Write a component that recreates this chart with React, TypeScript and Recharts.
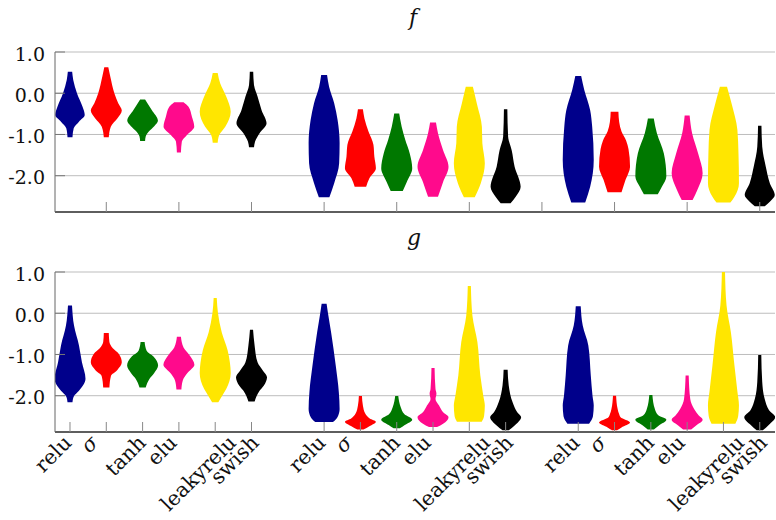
import React from 'react';
import { ComposedChart, Area, XAxis, YAxis, CartesianGrid } from 'recharts';

// ---- data ----
const CATEGORIES = ['relu', 'σ', 'tanh', 'elu', 'leakyrelu', 'swish'];
const COLORS = ['#00008b', '#ff0000', '#007800', '#ff0a8c', '#ffe600', '#000000'];
const GROUP_STARTS = [0, 7, 14];
const Y_TICKS = [-2, -1, 0, 1];
const TOP_X_TICKS = [1, 3, 5, 7, 9, 11, 13, 15, 17, 19];
const BOTTOM_X_TICKS = [0, 1, 2, 3, 4, 5, 7, 8, 9, 10, 11, 12, 14, 15, 16, 17, 18, 19];
const PANEL_TITLES = ['f', 'g'];

// violin profiles: [value, relative density (1 = widest)]
const fGroup1 = [
  [[0.52, 0.14], [0.32, 0.21], [0.0, 0.45], [-0.33, 0.81], [-0.53, 0.95], [-0.69, 0.58], [-0.85, 0.24], [-1.07, 0.16]],
  [[0.63, 0.13], [0.4, 0.26], [0.0, 0.52], [-0.24, 0.77], [-0.42, 1.0], [-0.61, 0.71], [-0.81, 0.29], [-1.07, 0.16]],
  [[-0.15, 0.16], [-0.4, 0.58], [-0.67, 0.99], [-0.8, 0.75], [-0.93, 0.4], [-1.05, 0.2], [-1.16, 0.16]],
  [[-0.22, 0.3], [-0.33, 0.62], [-0.57, 0.84], [-0.81, 0.99], [-1.01, 0.52], [-1.17, 0.19], [-1.44, 0.13]],
  [[0.49, 0.16], [0.24, 0.32], [-0.08, 0.71], [-0.45, 1.0], [-0.81, 0.65], [-1.01, 0.26], [-1.2, 0.16]],
  [[0.52, 0.11], [0.2, 0.16], [-0.08, 0.39], [-0.41, 0.65], [-0.73, 0.97], [-0.97, 0.52], [-1.17, 0.23], [-1.31, 0.16]],
];
const fGroup2 = [
  [[0.44, 0.19], [0.16, 0.32], [-0.24, 0.65], [-0.65, 0.87], [-1.21, 1.0], [-1.7, 0.97], [-2.18, 0.65], [-2.52, 0.34]],
  [[-0.39, 0.16], [-0.61, 0.26], [-0.93, 0.52], [-1.25, 0.84], [-1.54, 0.9], [-1.82, 1.0], [-2.06, 0.58], [-2.27, 0.37]],
  [[-0.49, 0.16], [-0.81, 0.32], [-1.13, 0.55], [-1.46, 0.84], [-1.82, 1.0], [-2.15, 0.65], [-2.37, 0.39]],
  [[-0.71, 0.19], [-0.97, 0.32], [-1.38, 0.65], [-1.78, 1.0], [-2.15, 0.65], [-2.51, 0.32]],
  [[0.16, 0.23], [-0.24, 0.48], [-0.81, 0.81], [-1.21, 0.84], [-1.7, 1.0], [-2.18, 0.74], [-2.52, 0.35]],
  [[-0.39, 0.11], [-1.05, 0.16], [-1.38, 0.39], [-1.78, 0.58], [-2.27, 0.97], [-2.51, 0.65], [-2.67, 0.32]],
];
const fGroup3 = [
  [[0.42, 0.19], [0.08, 0.39], [-0.41, 0.77], [-0.81, 0.9], [-1.62, 1.0], [-2.27, 0.77], [-2.65, 0.45]],
  [[-0.45, 0.25], [-0.7, 0.3], [-0.93, 0.45], [-1.15, 0.75], [-1.35, 0.9], [-1.78, 1.0], [-2.1, 0.71], [-2.4, 0.45]],
  [[-0.61, 0.19], [-0.97, 0.39], [-1.46, 0.84], [-2.02, 1.0], [-2.27, 0.71], [-2.45, 0.45]],
  [[-0.54, 0.16], [-0.97, 0.32], [-1.46, 0.71], [-1.94, 1.0], [-2.35, 0.65], [-2.59, 0.35]],
  [[0.16, 0.23], [-0.24, 0.52], [-0.89, 0.9], [-1.46, 0.97], [-2.18, 1.0], [-2.51, 0.71], [-2.65, 0.45]],
  [[-0.79, 0.11], [-1.3, 0.16], [-1.78, 0.39], [-2.18, 0.65], [-2.47, 0.97], [-2.63, 0.65], [-2.74, 0.32]],
];
const gGroup1 = [
  [[0.19, 0.13], [-0.3, 0.26], [-0.78, 0.58], [-1.19, 0.77], [-1.59, 1.0], [-1.88, 0.58], [-2.01, 0.26], [-2.16, 0.16]],
  [[-0.48, 0.16], [-0.7, 0.2], [-0.85, 0.42], [-0.98, 0.8], [-1.19, 1.0], [-1.38, 0.7], [-1.52, 0.3], [-1.8, 0.2]],
  [[-0.7, 0.13], [-0.91, 0.26], [-1.05, 0.7], [-1.27, 1.0], [-1.45, 0.75], [-1.59, 0.45], [-1.8, 0.2]],
  [[-0.57, 0.13], [-0.83, 0.3], [-1.0, 0.65], [-1.25, 1.0], [-1.45, 0.55], [-1.63, 0.25], [-1.85, 0.16]],
  [[0.37, 0.1], [0.0, 0.18], [-0.46, 0.42], [-0.9, 0.8], [-1.2, 0.95], [-1.45, 1.0], [-1.84, 0.71], [-2.0, 0.45], [-2.16, 0.2]],
  [[-0.4, 0.1], [-0.78, 0.2], [-1.19, 0.39], [-1.4, 0.75], [-1.55, 1.0], [-1.75, 0.8], [-1.88, 0.52], [-2.14, 0.2]],
];
const gGroup2 = [
  [[0.23, 0.16], [0.0, 0.25], [-0.46, 0.45], [-1.27, 0.75], [-1.92, 0.95], [-2.32, 1.0], [-2.52, 0.86], [-2.64, 0.57]],
  [[-2.01, 0.1], [-2.24, 0.16], [-2.44, 0.32], [-2.55, 0.6], [-2.63, 1.0], [-2.74, 0.58], [-2.82, 0.2]],
  [[-2.01, 0.1], [-2.28, 0.26], [-2.45, 0.5], [-2.58, 1.0], [-2.71, 0.52], [-2.79, 0.2]],
  [[-1.33, 0.1], [-1.84, 0.16], [-1.95, 0.22], [-2.08, 0.16], [-2.24, 0.39], [-2.4, 0.65], [-2.52, 1.0], [-2.68, 0.65], [-2.76, 0.26]],
  [[0.66, 0.1], [-0.06, 0.2], [-0.7, 0.52], [-1.51, 0.71], [-2.0, 0.9], [-2.24, 1.0], [-2.5, 0.95], [-2.63, 0.8]],
  [[-1.37, 0.13], [-1.75, 0.2], [-2.16, 0.45], [-2.4, 0.75], [-2.52, 1.0], [-2.72, 0.58], [-2.84, 0.2]],
];
const gGroup3 = [
  [[0.17, 0.16], [-0.3, 0.29], [-0.78, 0.65], [-1.51, 0.81], [-2.0, 0.92], [-2.24, 1.0], [-2.5, 0.95], [-2.68, 0.7]],
  [[-2.0, 0.1], [-2.32, 0.2], [-2.45, 0.3], [-2.52, 0.39], [-2.65, 1.0], [-2.77, 0.45], [-2.84, 0.16]],
  [[-1.98, 0.1], [-2.32, 0.26], [-2.48, 0.5], [-2.58, 1.0], [-2.72, 0.52], [-2.82, 0.2]],
  [[-1.51, 0.1], [-2.08, 0.2], [-2.32, 0.45], [-2.48, 0.75], [-2.58, 1.0], [-2.72, 0.58], [-2.82, 0.26]],
  [[1.01, 0.1], [0.19, 0.2], [-0.46, 0.48], [-1.27, 0.71], [-1.9, 0.9], [-2.24, 1.0], [-2.5, 0.95], [-2.68, 0.77]],
  [[-1.01, 0.1], [-1.67, 0.16], [-2.08, 0.32], [-2.35, 0.6], [-2.52, 1.0], [-2.71, 0.58], [-2.84, 0.2]],
];

// ---- layout constants ----
const W = 776;
const Y_DOMAIN: [number, number] = [-2.88, 1.0];
const X_DOMAIN: [number, number] = [-0.413, 19.42];
const MAX_HALF = 0.427;
const FONT = '"DejaVu Serif", serif';
const LABEL_SIZE = 20.5;

type Violin = { key: string; pos: number; color: string };

function buildPanel(groups: number[][][][]) {
  const violins: Violin[] = [];
  const map = new Map<string, any>();
  groups.forEach((group, gi) =>
    group.forEach((prof, ci) => {
      const key = `k${gi}_${ci}`;
      const pos = GROUP_STARTS[gi] + ci;
      violins.push({ key, pos, color: COLORS[ci] });
      prof.forEach(([v, d]) => {
        const id = v.toFixed(3);
        if (!map.has(id)) map.set(id, { v });
        map.get(id)[key] = [pos - d * MAX_HALF, pos + d * MAX_HALF];
      });
    })
  );
  const rows = Array.from(map.values()).sort((a, b) => b.v - a.v);
  rows.forEach((r) => violins.forEach((vi) => { if (!(vi.key in r)) r[vi.key] = [null, null]; }));
  return { rows, violins };
}

const topPanel = buildPanel([fGroup1, fGroup2, fGroup3]);
const bottomPanel = buildPanel([gGroup1, gGroup2, gGroup3]);

let ctx: CanvasRenderingContext2D | null = null;
function measure(text: string, italic: boolean) {
  if (!ctx) ctx = document.createElement('canvas').getContext('2d');
  if (!ctx) return text.length * LABEL_SIZE * 0.55;
  ctx.font = `${italic ? 'italic ' : ''}${LABEL_SIZE}px "DejaVu Serif"`;
  return ctx.measureText(text).width;
}

const renderYTick = (p: any) => {
  const { x, y, payload } = p;
  return (
    <g>
      <line x1={x} x2={x + 10} y1={y} y2={y} stroke="#777" strokeWidth={1} />
      <text x={x - 10} y={y + 8.5} textAnchor="end" fontFamily={FONT} fontSize={19} fill="#111">
        {Number(payload.value).toFixed(1)}
      </text>
    </g>
  );
};

const makeXTick = (withLabel: boolean) => (p: any) => {
  const { x, y, payload } = p;
  const pos = Number(payload.value);
  const label = CATEGORIES[pos % 7];
  const italic = label === 'σ';
  let txt = null;
  if (withLabel && label) {
    const L = measure(label, italic);
    const ex = x - 12 + 0.354 * L;
    const ey = y + 12;
    txt = (
      <text
        x={ex}
        y={ey}
        textAnchor="end"
        transform={`rotate(-45 ${ex} ${ey})`}
        fontFamily={FONT}
        fontStyle={italic ? 'italic' : 'normal'}
        fontSize={LABEL_SIZE}
        fill="#111"
      >
        {label}
      </text>
    );
  }
  return (
    <g>
      <line x1={x} x2={x} y1={y} y2={y - 10} stroke="#888" strokeWidth={1} />
      {txt}
    </g>
  );
};

function Panel({ panel, height, xHeight, xTicks, withLabels }: any) {
  return (
    <ComposedChart
      layout="vertical"
      width={W}
      height={height}
      data={panel.rows}
      margin={{ top: 52, right: 1, bottom: 0, left: 0 }}
    >
      <CartesianGrid vertical={false} stroke="#bdbdbd" />
      <XAxis
        type="number"
        domain={X_DOMAIN}
        allowDataOverflow
        ticks={xTicks}
        interval={0}
        height={xHeight}
        tickSize={0}
        tickMargin={0}
        tickLine={false}
        axisLine={{ stroke: '#333', strokeWidth: 1.3 }}
        tick={makeXTick(withLabels)}
      />
      <YAxis
        type="number"
        dataKey="v"
        domain={Y_DOMAIN}
        allowDataOverflow
        reversed
        ticks={Y_TICKS}
        interval={0}
        width={55}
        tickSize={0}
        tickMargin={0}
        tickLine={false}
        axisLine={{ stroke: '#666', strokeWidth: 1 }}
        tick={renderYTick}
      />
      {panel.violins.map((vi: Violin) => (
        <Area
          key={vi.key}
          dataKey={vi.key}
          type="monotone"
          stroke="none"
          fill={vi.color}
          fillOpacity={1}
          connectNulls
          dot={false}
          activeDot={false}
          isAnimationActive={false}
        />
      ))}
    </ComposedChart>
  );
}

export default function App() {
  return (
    <div style={{ position: 'relative', width: W, height: 520, background: '#fff' }}>
      <style>{'body{margin:0;background:#fff}'}</style>
      <div style={{ position: 'absolute', left: 0, top: 0 }}>
        <Panel panel={topPanel} height={220} xHeight={8} xTicks={TOP_X_TICKS} withLabels={false} />
      </div>
      <div style={{ position: 'absolute', left: 0, top: 220 }}>
        <Panel panel={bottomPanel} height={300} xHeight={88} xTicks={BOTTOM_X_TICKS} withLabels={true} />
      </div>
      <svg width={W} height={520} style={{ position: 'absolute', left: 0, top: 0, pointerEvents: 'none' }}>
        <text x={413} y={25} textAnchor="middle" fontFamily={FONT} fontStyle="italic" fontSize={22} fill="#111">
          {PANEL_TITLES[0]}
        </text>
        <text x={414} y={245} textAnchor="middle" fontFamily={FONT} fontStyle="italic" fontSize={22} fill="#111">
          {PANEL_TITLES[1]}
        </text>
      </svg>
    </div>
  );
}
